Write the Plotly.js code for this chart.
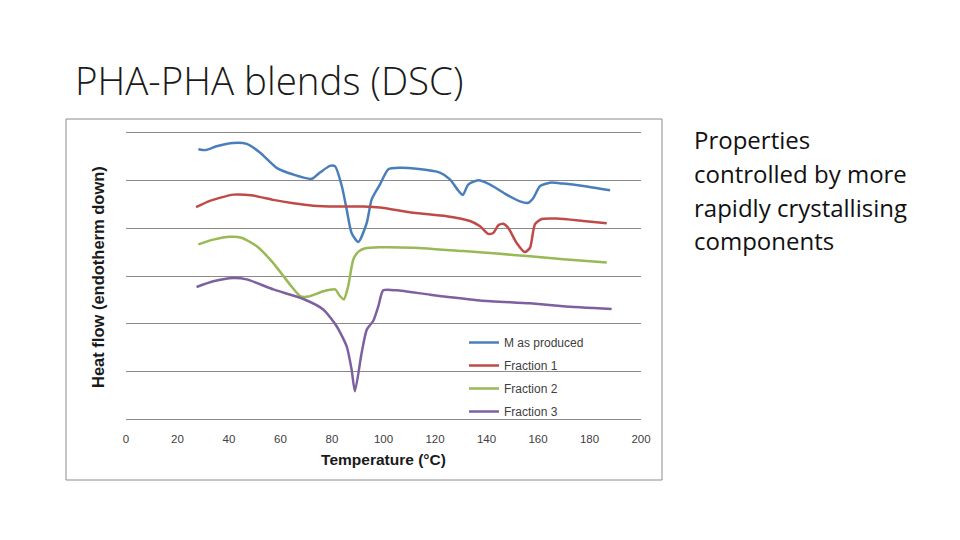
<!DOCTYPE html>
<html>
<head>
<meta charset="utf-8">
<script src="https://cdn.plot.ly/plotly-3.0.1.min.js"></script>
<style>
html,body{margin:0;padding:0;background:#fff;}
#chart{width:960px;height:540px;}
</style>
</head>
<body>
<div id="chart"></div>
<script>
// Series names
const seriesNames = ["M as produced", "Fraction 1", "Fraction 2", "Fraction 3"];

// Temperature (°C) and heat flow (arbitrary units)
const tempM = [28.1, 31, 35.2, 41.7, 46.9, 52, 58.5, 65, 72.1, 75.3, 79.2, 81.2, 83.8, 85.7, 87.6, 90.2, 93.5, 95.4, 98.6, 101.9, 106.4, 112.9, 121.9, 125.8, 129.1, 130.8, 132.9, 136.8, 141.4, 147.8, 153, 156.2, 158.2, 160.8, 164.7, 169.8, 177.6, 188];
const flowM = [5.65, 5.63, 5.71, 5.78, 5.76, 5.58, 5.26, 5.12, 5.03, 5.16, 5.30, 5.29, 4.88, 4.39, 3.90, 3.71, 4.11, 4.60, 4.91, 5.23, 5.26, 5.24, 5.16, 5.02, 4.78, 4.69, 4.91, 5.00, 4.91, 4.70, 4.56, 4.53, 4.63, 4.88, 4.95, 4.93, 4.88, 4.79];

const tempF1 = [27.2, 32.6, 41.7, 49.4, 57.2, 65, 72.7, 81.8, 92.2, 98.6, 111.6, 124.5, 133.6, 137.5, 140.7, 142.6, 144.6, 146.5, 148.5, 151.7, 154.9, 156.9, 158.8, 161.4, 167.3, 177.6, 186.7];
const flowF1 = [4.44, 4.57, 4.70, 4.68, 4.59, 4.52, 4.47, 4.45, 4.45, 4.43, 4.32, 4.25, 4.15, 4.04, 3.88, 3.90, 4.06, 4.09, 4.00, 3.69, 3.50, 3.59, 4.08, 4.19, 4.20, 4.15, 4.10];

const tempF2 = [28.1, 33.9, 40.4, 44.9, 50.8, 57.2, 63.7, 67.6, 70.8, 76.6, 81.2, 83.1, 84.6, 86.3, 88.3, 90.5, 93, 98.6, 111.6, 131, 144, 156.9, 169.8, 186.7];
const flowF2 = [3.66, 3.76, 3.82, 3.80, 3.62, 3.27, 2.82, 2.58, 2.57, 2.68, 2.72, 2.58, 2.51, 2.79, 3.35, 3.52, 3.58, 3.60, 3.59, 3.52, 3.47, 3.41, 3.35, 3.28];

const tempF3 = [27.4, 33.9, 41.7, 46.9, 57.2, 68.9, 76.6, 81.8, 85.7, 87.6, 88.9, 91.5, 93.5, 96, 98, 99.9, 105.1, 118.1, 137.5, 156.9, 169.8, 188.6];
const flowF3 = [2.77, 2.89, 2.96, 2.93, 2.72, 2.52, 2.30, 1.95, 1.53, 1.05, 0.59, 1.39, 1.88, 2.06, 2.37, 2.70, 2.70, 2.61, 2.49, 2.43, 2.37, 2.31];

const xTicks = [0, 20, 40, 60, 80, 100, 120, 140, 160, 180, 200];
const yGrid = [0, 1, 2, 3, 4, 5, 6];
const colors = ["#4A7EBB", "#BE4B48", "#98B954", "#7D60A0"];

const allX = [tempM, tempF1, tempF2, tempF3];
const allY = [flowM, flowF1, flowF2, flowF3];

const traces = seriesNames.map((n, i) => ({
  type: "scatter",
  mode: "lines",
  name: n,
  legendgroup: "g" + i,
  x: allX[i],
  y: allY[i],
  line: {color: colors[i], width: 2.5, shape: "spline", smoothing: 0.6}
}));

// plot area in pixels: x 126..641, y 130..422 (y range padded so edge gridlines show)
const L = 126, R = 641, T = 130, B = 422;
const px = v => (v - L) / (R - L);
const py = v => (B - v) / (B - T);

const rightLines = ["Properties", "controlled by more", "rapidly crystallising", "components"];
const rightY = [139, 173, 207, 240];

const annotations = [
  {text: "PHA-PHA blends (DSC)", xref: "paper", yref: "paper", x: px(73), y: py(80),
   xanchor: "left", yanchor: "middle", showarrow: false,
   font: {family: "Open Sans, sans-serif", size: 38.5, color: "#1a1a1a", weight: 300}},
  {text: "Heat flow (endotherm down)", xref: "paper", yref: "paper", x: px(98), y: py(277),
   xanchor: "center", yanchor: "middle", textangle: -90, showarrow: false,
   font: {family: "Liberation Sans, Arial, sans-serif", size: 16.5, color: "#1a1a1a", weight: 700}}
].concat(rightLines.map((t, i) => ({
  text: t, xref: "paper", yref: "paper", x: px(692), y: py(rightY[i]),
  xanchor: "left", yanchor: "middle", showarrow: false,
  font: {family: "Open Sans, sans-serif", size: 24, color: "#111"}
})));

const layout = {
  width: 960, height: 540,
  margin: {l: L, r: 960 - R, t: T, b: 540 - B},
  paper_bgcolor: "#ffffff", plot_bgcolor: "#ffffff",
  showlegend: true,
  legend: {x: px(464), y: py(328), xanchor: "left", yanchor: "top",
           bgcolor: "rgba(0,0,0,0)", font: {family: "Liberation Sans, Arial, sans-serif", size: 12, color: "#404040"},
           tracegroupgap: 4, itemwidth: 30},
  xaxis: {range: [0, 200], tickvals: xTicks, ticktext: xTicks.map(String),
          showgrid: false, zeroline: false, showline: false, ticks: "", ticklabelstandoff: 8,
          tickfont: {family: "Liberation Sans, Arial, sans-serif", size: 11.5, color: "#404040"},
          title: {text: "Temperature (°C)", standoff: 10,
                  font: {family: "Liberation Sans, Arial, sans-serif", size: 15.5, color: "#1a1a1a", weight: 700}},
          fixedrange: true},
  yaxis: {range: [-0.05, 6.05], tickvals: yGrid, showticklabels: false, ticks: "",
          showgrid: true, gridcolor: "#8a8a8a", gridwidth: 1,
          zeroline: false, showline: false,
          fixedrange: true},
  shapes: [
    {type: "rect", xref: "paper", yref: "paper", x0: px(66), x1: px(662), y0: py(480), y1: py(119),
     line: {color: "#8c8c8c", width: 1}, fillcolor: "rgba(0,0,0,0)", layer: "below"}
  ],
  annotations: annotations
};

Plotly.newPlot("chart", traces, layout, {staticPlot: true, displayModeBar: false});
</script>
</body>
</html>
